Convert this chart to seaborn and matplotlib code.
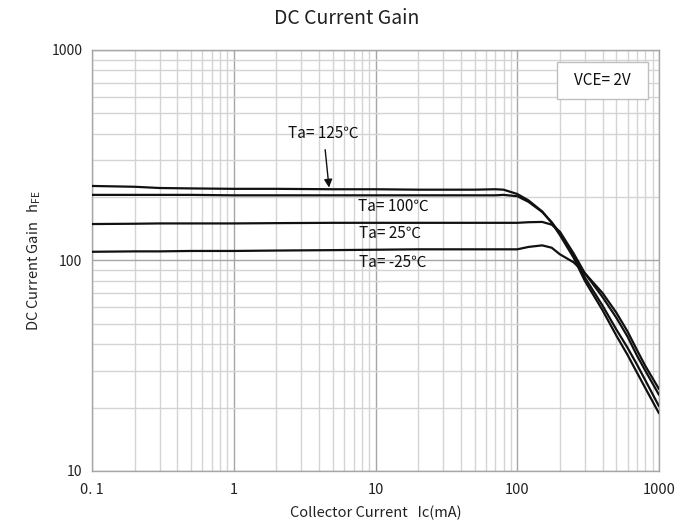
import matplotlib
matplotlib.use("Agg")
import matplotlib.pyplot as plt
import seaborn as sns
import pandas as pd
import numpy as np
from matplotlib.ticker import FixedLocator, NullFormatter, FixedFormatter
from matplotlib.patches import Rectangle

sns.set_theme(style="white")
plt.rcParams['font.family'] = ['Noto Sans CJK SC', 'DejaVu Sans']
plt.rcParams['mathtext.fontset'] = 'custom'
plt.rcParams['mathtext.rm'] = 'Noto Sans CJK SC'

# ---- data ----
ic_ma = [0.1, 0.2, 0.3, 0.5, 1, 2, 5, 10, 20, 50, 70, 80, 100, 120, 150, 175, 200, 250, 300, 400, 500, 600, 700, 800, 1000]
hfe_125 = [226, 224, 221, 220, 219, 219, 218, 218, 217, 217, 218, 217, 207, 193, 171, 151, 132, 103, 80, 58, 44, 35.6, 29.3, 24.8, 18.8]
hfe_100 = [205, 205, 205, 205, 204, 204, 204, 204, 204, 204, 204, 205, 202, 190, 170, 152, 135, 106, 83, 61, 47, 38.5, 32, 27, 20.3]
hfe_25 = [149, 149.5, 150, 150, 150, 150.5, 151, 151, 151, 151, 151, 151, 151, 152, 152.5, 148, 137, 108, 87, 67, 53.5, 43.5, 35.3, 30, 23]
hfe_m25 = [110, 110.5, 110.5, 111, 111, 111.5, 112, 112.5, 113, 113, 113, 113, 113, 116, 118, 115, 107, 98, 87, 70, 56.5, 46, 37.5, 31.6, 24.5]
temps = ["125", "100", "25", "-25"]

title = "DC Current Gain"
xlabel = "Collector Current   Ic(mA)"
ylabel = "DC Current Gain   h$_{\\mathregular{FE}}$"
x_major = [0.1, 1, 10, 100, 1000]
x_major_labels = ["0. 1", "1", "10", "100", "1000"]
y_major = [10, 100, 1000]
y_major_labels = ["10", "100", "1000"]

series = {"125": hfe_125, "100": hfe_100, "25": hfe_25, "-25": hfe_m25}
df = pd.concat([pd.DataFrame({"Ic": ic_ma, "hFE": v, "Ta": k}) for k, v in series.items()],
               ignore_index=True)

fig = plt.figure(figsize=(6.94, 5.22), dpi=100)
ax = fig.add_axes([92/694, 1-471/522, (659-92)/694, (471-50)/522])

sns.lineplot(data=df, x="Ic", y="hFE", hue="Ta", hue_order=temps,
             palette=["#111111"]*4, linewidth=1.6, legend=False, ax=ax,
             estimator=None, sort=True, zorder=3)

ax.set_xscale("log")
ax.set_yscale("log")
ax.set_xlim(0.1, 1000)
ax.set_ylim(10, 1000)

ax.xaxis.set_major_locator(FixedLocator(x_major))
ax.xaxis.set_major_formatter(FixedFormatter(x_major_labels))
ax.yaxis.set_major_locator(FixedLocator(y_major))
ax.yaxis.set_major_formatter(FixedFormatter(y_major_labels))
xminor = [m * 10.0**d for d in range(-1, 3) for m in range(2, 10)]
yminor = [m * 10.0**d for d in range(1, 3) for m in range(2, 10)]
ax.xaxis.set_minor_locator(FixedLocator(xminor))
ax.yaxis.set_minor_locator(FixedLocator(yminor))
ax.xaxis.set_minor_formatter(NullFormatter())
ax.yaxis.set_minor_formatter(NullFormatter())

ax.grid(True, which="major", color="#a6a6a6", linewidth=1.0, zorder=0)
ax.grid(True, which="minor", color="#d4d4d4", linewidth=1.0, zorder=0)
ax.tick_params(axis="x", which="both", length=0, labelsize=10.5, colors="#222222", pad=9)
ax.tick_params(axis="y", which="both", length=0, labelsize=10, colors="#222222", pad=7)
for s in ax.spines.values():
    s.set_color("#a6a6a6")
    s.set_linewidth(1.0)

ax.set_xlabel(xlabel, fontsize=10.5, color="#222222", labelpad=6)
ax.set_ylabel(ylabel, fontsize=10.5, color="#222222", labelpad=6)
fig.text(0.5, 1-18/522, title, ha="center", va="center", fontsize=14, color="#222222")

# annotations
ax.annotate("Ta= 125℃", xy=(4.7, 222), xytext=(4.3, 400), fontsize=11, color="#111111",
            ha="center", va="center",
            arrowprops=dict(arrowstyle="-|>", color="#111111", lw=1.0,
                            shrinkA=3, shrinkB=0, mutation_scale=12))
ax.text(7.5, 180, "Ta= 100℃", fontsize=11, ha="left", va="center", color="#111111")
ax.text(7.7, 134, "Ta= 25℃", fontsize=11, ha="left", va="center", color="#111111")
ax.text(7.6, 97.5, "Ta= -25℃", fontsize=11, ha="left", va="center", color="#111111")

# VCE box
ax.add_patch(Rectangle((0.82, 0.883), 0.161, 0.088, transform=ax.transAxes,
                       facecolor="white", edgecolor="#bfbfbf", lw=1.0, zorder=4))
ax.text(0.9, 0.927, "VCE= 2V", transform=ax.transAxes, ha="center", va="center",
        fontsize=11, color="#111111", zorder=5)

fig.savefig("out.png", dpi=100)
